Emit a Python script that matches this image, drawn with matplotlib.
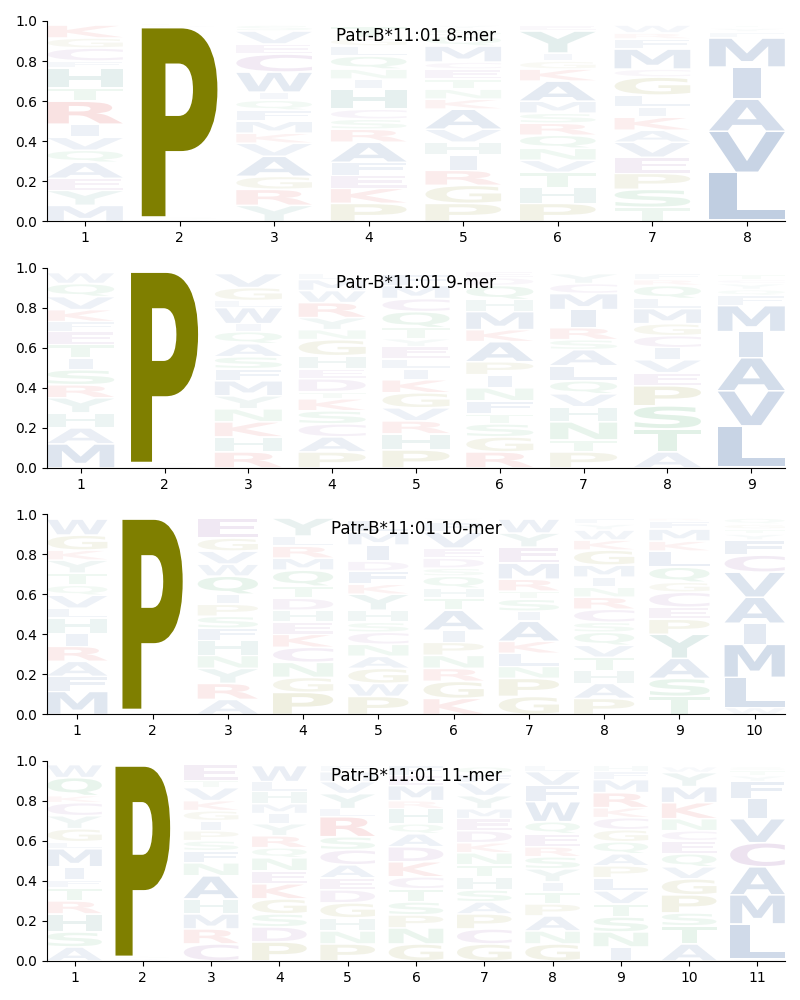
import matplotlib
matplotlib.use("Agg")
import matplotlib.pyplot as plt
from matplotlib.textpath import TextPath
from matplotlib.patches import PathPatch
from matplotlib.font_manager import FontProperties
from matplotlib.transforms import Affine2D

allele = "Patr-B*11:01"

# letter stacks per position, bottom to top: (residue, probability)
logo_8mer = [
    [('M', .08), ('Y', .075), ('E', .06), ('A', .08), ('Q', .06), ('V', .065), ('I', .065), ('R', .115),
     ('T', .065), ('H', .10), ('F', .035), ('C', .065), ('G', .05), ('K', .065)],
    [('A', .012), ('S', .01), ('P', .945), ('V', .01), ('L', .01)],
    [('Y', .08), ('R', .08), ('G', .065), ('A', .10), ('V', .065), ('K', .05), ('M', .06), ('F', .055),
     ('Q', .05), ('I', .04), ('W', .10), ('C', .09), ('E', .05), ('V', .065), ('S', .03)],
    [('P', .09), ('K', .075), ('E', .065), ('F', .065), ('A', .10), ('R', .065), ('S', .05), ('C', .05),
     ('H', .10), ('I', .05), ('N', .05), ('Q', .065), ('L', .05), ('G', .04), ('T', .06)],
    [('P', .09), ('G', .09), ('R', .075), ('I', .075), ('H', .065), ('V', .065), ('A', .10), ('K', .05),
     ('N', .05), ('T', .05), ('E', .05), ('C', .035), ('M', .08), ('Q', .05), ('S', .035), ('Y', .02)],
    [('P', .09), ('H', .08), ('T', .075), ('V', .06), ('N', .06), ('Q', .065), ('R', .06), ('S', .05),
     ('M', .06), ('A', .10), ('K', .06), ('G', .04), ('I', .04), ('Y', .11), ('E', .03)],
    [('T', .07), ('S', .09), ('P', .08), ('E', .08), ('V', .075), ('A', .06), ('K', .065), ('I', .05),
     ('L', .06), ('G', .09), ('C', .04), ('M', .10), ('F', .05), ('R', .03), ('W', .04)],
    [('W', .01), ('L', .235), ('V', .205), ('A', .16), ('I', .16), ('M', .145), ('F', .03), ('Y', .02),
     ('T', .015)],
]

logo_9mer = [
    [('M', .12), ('A', .08), ('H', .075), ('Y', .075), ('R', .065), ('S', .075), ('I', .06), ('T', .065),
     ('E', .065), ('F', .05), ('K', .06), ('V', .065), ('Q', .065), ('W', .055)],
    [('A', .015), ('S', .012), ('P', .95), ('V', .005)],
    [('R', .08), ('H', .075), ('K', .075), ('N', .065), ('Y', .065), ('M', .075), ('F', .06), ('S', .06),
     ('A', .065), ('Q', .06), ('I', .04), ('W', .08), ('L', .035), ('G', .065), ('V', .07)],
    [('P', .08), ('A', .075), ('C', .065), ('S', .065), ('K', .06), ('T', .035), ('D', .065), ('E', .05),
     ('H', .065), ('G', .08), ('N', .05), ('Y', .06), ('R', .075), ('W', .06), ('M', .055), ('L', .03)],
    [('P', .09), ('H', .08), ('R', .065), ('V', .065), ('G', .075), ('K', .065), ('I', .055), ('L', .05),
     ('E', .06), ('Y', .04), ('T', .055), ('Q', .08), ('C', .065), ('M', .065), ('F', .055)],
    [('R', .08), ('G', .075), ('S', .065), ('T', .05), ('F', .065), ('N', .065), ('I', .065), ('P', .065),
     ('A', .10), ('K', .06), ('M', .09), ('H', .06), ('Q', .07), ('D', .04), ('E', .03)],
    [('P', .08), ('T', .06), ('N', .09), ('H', .075), ('V', .065), ('Q', .065), ('L', .075), ('A', .08),
     ('S', .05), ('R', .06), ('I', .09), ('M', .08), ('C', .05), ('Y', .05)],
    [('A', .08), ('T', .115), ('S', .115), ('P', .10), ('E', .065), ('V', .065), ('I', .06), ('C', .06),
     ('G', .06), ('M', .075), ('L', .05), ('Q', .065), ('R', .03), ('F', .03)],
    [('W', .005), ('L', .205), ('V', .175), ('A', .165), ('I', .13), ('M', .13), ('F', .05), ('Q', .03),
     ('Y', .03), ('C', .02), ('T', .025)],
]

logo_10mer = [
    [('M', .115), ('F', .075), ('A', .075), ('R', .075), ('I', .065), ('H', .075), ('L', .05), ('V', .065),
     ('Q', .05), ('T', .06), ('Y', .065), ('K', .05), ('G', .075), ('W', .08)],
    [('A', .013), ('S', .012), ('P', .95), ('V', .005)],
    [('A', .075), ('R', .08), ('Y', .075), ('N', .065), ('H', .075), ('F', .06), ('S', .06), ('P', .06),
     ('I', .05), ('Q', .09), ('W', .06), ('V', .065), ('G', .065), ('E', .10)],
    [('P', .11), ('G', .075), ('N', .075), ('C', .075), ('K', .065), ('E', .06), ('H', .06), ('D', .06),
     ('T', .06), ('Q', .08), ('M', .06), ('R', .06), ('L', .05), ('Y', .09)],
    [('P', .09), ('W', .065), ('G', .075), ('A', .06), ('N', .06), ('C', .06), ('S', .05), ('H', .06),
     ('Y', .08), ('K', .05), ('F', .065), ('D', .05), ('I', .08), ('M', .065), ('L', .06)],
    [('K', .08), ('G', .085), ('R', .065), ('N', .065), ('P', .065), ('I', .06), ('A', .10), ('T', .06),
     ('H', .05), ('Q', .06), ('S', .04), ('D', .05), ('E', .05), ('V', .08), ('F', .05), ('Y', .02)],
    [('G', .09), ('P', .09), ('N', .06), ('L', .065), ('K', .06), ('A', .10), ('I', .05), ('S', .06),
     ('T', .04), ('R', .06), ('M', .08), ('E', .08), ('Y', .07), ('W', .07)],
    [('P', .08), ('A', .075), ('H', .065), ('T', .065), ('V', .06), ('Q', .065), ('S', .05), ('C', .065),
     ('R', .06), ('N', .05), ('I', .05), ('M', .06), ('G', .075), ('K', .05), ('W', .05), ('Y', .03),
     ('F', .03)],
    [('T', .09), ('S', .09), ('A', .10), ('Y', .12), ('P', .075), ('E', .06), ('C', .075), ('G', .05),
     ('Q', .075), ('L', .08), ('K', .05), ('M', .06), ('F', .04), ('R', .015)],
    [('W', .035), ('L', .15), ('M', .165), ('I', .105), ('A', .13), ('V', .125), ('C', .085), ('F', .075),
     ('Y', .03), ('T', .025), ('G', .025), ('Q', .03)],
]

logo_11mer = [
    [('A', .07), ('S', .075), ('H', .09), ('R', .065), ('T', .065), ('F', .04), ('I', .065), ('M', .09),
     ('L', .035), ('G', .065), ('Y', .065), ('C', .065), ('K', .035), ('Q', .09), ('W', .065)],
    [('A', .012), ('S', .011), ('P', .95), ('V', .005)],
    [('C', .085), ('R', .075), ('M', .075), ('H', .075), ('A', .115), ('N', .065), ('F', .06), ('S', .05),
     ('P', .05), ('I', .05), ('G', .05), ('K', .05), ('V', .065), ('T', .035), ('E', .08)],
    [('P', .095), ('D', .075), ('S', .065), ('G', .075), ('K', .075), ('E', .065), ('N', .065), ('Q', .05),
     ('R', .06), ('Y', .06), ('I', .05), ('M', .05), ('H', .06), ('L', .05), ('W', .08)],
    [('P', .085), ('N', .065), ('H', .065), ('G', .075), ('D', .065), ('E', .06), ('A', .065), ('C', .075),
     ('S', .065), ('R', .10), ('L', .04), ('Y', .075), ('V', .06), ('M', .05), ('F', .03)],
    [('G', .085), ('N', .08), ('P', .065), ('S', .065), ('T', .065), ('C', .06), ('K', .075), ('D', .075),
     ('A', .065), ('Q', .05), ('H', .075), ('R', .04), ('M', .075), ('E', .05), ('F', .05)],
    [('G', .085), ('C', .075), ('P', .075), ('A', .06), ('S', .06), ('H', .065), ('T', .06), ('N', .06),
     ('K', .05), ('D', .06), ('E', .06), ('M', .05), ('Y', .065), ('V', .065), ('F', .04), ('Q', .04)],
    [('G', .085), ('N', .065), ('A', .075), ('P', .06), ('T', .06), ('I', .05), ('Y', .065), ('S', .06),
     ('R', .05), ('E', .065), ('Q', .06), ('W', .10), ('F', .08), ('V', .07), ('L', .03)],
    [('I', .07), ('N', .075), ('S', .075), ('T', .065), ('V', .065), ('L', .065), ('P', .06), ('A', .06),
     ('Q', .06), ('G', .06), ('C', .06), ('K', .05), ('R', .075), ('M', .065), ('F', .04), ('H', .03)],
    [('A', .085), ('T', .09), ('S', .065), ('P', .09), ('G', .08), ('V', .06), ('Q', .065), ('E', .065),
     ('C', .05), ('N', .06), ('K', .08), ('M', .08), ('Y', .07), ('W', .03)],
    [('W', .01), ('L', .175), ('M', .145), ('A', .14), ('C', .12), ('V', .12), ('I', .10), ('F', .085),
     ('Y', .03), ('T', .025), ('S', .02)],
]

logos = [("8-mer", logo_8mer), ("9-mer", logo_9mer), ("10-mer", logo_10mer), ("11-mer", logo_11mer)]

# residue colour groups
group_colors = {
    'AVLIMFW': '#0d438e',
    'GP': '#7f7f00',
    'RK': '#d7191c',
    'STNQ': '#1a9641',
    'HY': '#1f7a6e',
    'CDE': '#7b3294',
}
residue_color = {aa: c for grp, c in group_colors.items() for aa in grp}

font = FontProperties(family='DejaVu Sans', weight='bold')
# narrow glyphs (like I) are not stretched wider than an E would be
e_width = TextPath((0, 0), 'E', size=1, prop=font).get_extents().width


def draw_letter(ax, letter, x, y, width, height, color, alpha):
    tp = TextPath((0, 0), letter, size=1, prop=font)
    ext = tp.get_extents()
    sx = min(width / ext.width, width / e_width)
    w = ext.width * sx
    tr = (Affine2D()
          .translate(-ext.x0, -ext.y0)
          .scale(sx, height / ext.height)
          .translate(x - w / 2, y))
    patch = PathPatch(tr.transform_path(tp), facecolor=color, edgecolor='none', alpha=alpha)
    ax.add_patch(patch)


fig, axes = plt.subplots(4, 1, figsize=(8, 10), dpi=100)
fig.subplots_adjust(left=0.059, right=0.981, top=0.979, bottom=0.039, hspace=0.23)

for ax, (name, logo) in zip(axes, logos):
    n = len(logo)
    for pos, stack in enumerate(logo, start=1):
        y = 0.0
        for aa, p in stack:
            pad = min(0.004, p * 0.2)
            draw_letter(ax, aa, pos, y + pad, 0.8, p - 2 * pad, residue_color[aa], min(1.0, 1.1 * p))
            y += p
    ax.set_xlim(0.6, n + 0.4)
    ax.set_ylim(0, 1)
    ax.set_xticks(range(1, n + 1))
    ax.set_yticks([0, 0.2, 0.4, 0.6, 0.8, 1.0])
    ax.spines['top'].set_visible(False)
    ax.spines['right'].set_visible(False)
    ax.text(0.5, 0.925, f"{allele} {name}", transform=ax.transAxes, ha='center', va='center', fontsize=12)

fig.savefig("out.png")
